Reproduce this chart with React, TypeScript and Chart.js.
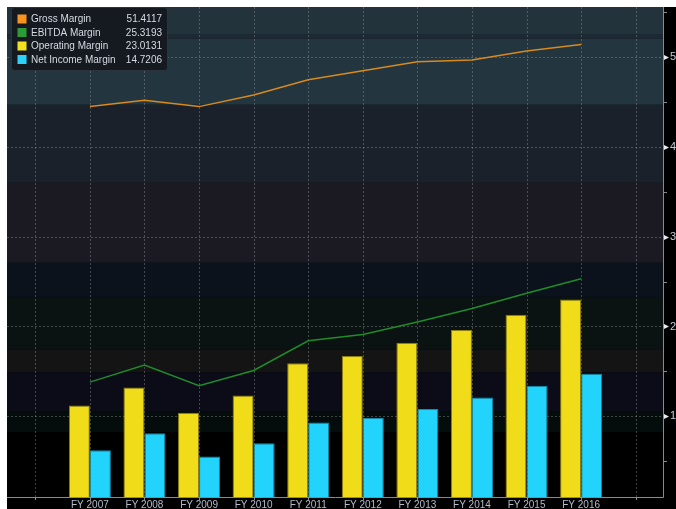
import React, { useEffect, useRef } from 'react';
import { Chart, registerables } from 'chart.js';

Chart.register(...registerables);

const categories = ['', 'FY 2007', 'FY 2008', 'FY 2009', 'FY 2010', 'FY 2011', 'FY 2012', 'FY 2013', 'FY 2014', 'FY 2015', 'FY 2016', ''];
const grossMargin = [null, 44.5, 45.2, 44.5, 45.8, 47.5, 48.5, 49.5, 49.7, 50.7, 51.41, null];
const ebitdaMargin = [null, 13.8, 15.7, 13.4, 15.1, 18.4, 19.1, 20.5, 22.0, 23.7, 25.32, null];
const operatingMargin = [null, 11.2, 13.2, 10.4, 12.3, 15.9, 16.7, 18.2, 19.6, 21.3, 23.01, null];
const netIncomeMargin = [null, 6.2, 8.1, 5.5, 7.0, 9.3, 9.8, 10.8, 12.1, 13.4, 14.72, null];

const seriesNames = ['Gross Margin', 'EBITDA Margin', 'Operating Margin', 'Net Income Margin'];
const legendValues = ['51.4117', '25.3193', '23.0131', '14.7206'];
const legendColors = ['#f7941d', '#2c9a36', '#f2e11c', '#2bd3fb'];

const yTicks = [5, 10, 15, 20, 25, 30, 35, 40, 45, 50, 55];
const yMin = 1;
const yMax = 55.6;

// background bands (value ranges) – styling
const bands: [number, number, string][] = [
  [52.5, 60, '#22333b'],
  [52.1, 52.5, '#1f2836'],
  [44.7, 52.1, '#23353e'],
  [36.0, 44.7, '#1a212a'],
  [27.1, 36.0, '#1b1a23'],
  [23.3, 27.1, '#0b121c'],
  [17.4, 23.3, '#0a1212'],
  [14.9, 17.4, '#141414'],
  [10.5, 14.9, '#0b0c18'],
  [8.25, 10.5, '#050c0c'],
];

const FONT = '"Liberation Sans", Arial, sans-serif';

const bgPlugin = {
  id: 'bgPlugin',
  beforeDraw(chart: any) {
    const { ctx, chartArea: ca, scales } = chart;
    const y = scales.y;
    const x = scales.x;
    ctx.save();
    ctx.fillStyle = '#000000';
    ctx.fillRect(0, 0, chart.width, chart.height);
    for (const [a, b, c] of bands) {
      const top = Math.max(ca.top, y.getPixelForValue(Math.min(b, yMax)));
      const bot = Math.min(ca.bottom, y.getPixelForValue(Math.max(a, yMin)));
      if (bot <= top) continue;
      ctx.fillStyle = c;
      ctx.fillRect(0, top, ca.right, bot - top);
    }
    // grid
    ctx.strokeStyle = 'rgba(150,150,150,0.42)';
    ctx.lineWidth = 1;
    ctx.setLineDash([2, 2]);
    for (const v of yTicks) {
      if (v % 10 !== 0) continue;
      const py = Math.round(y.getPixelForValue(v)) + 0.5;
      ctx.beginPath();
      ctx.moveTo(0, py);
      ctx.lineTo(ca.right, py);
      ctx.stroke();
    }
    for (let i = 0; i < categories.length; i++) {
      const px = Math.round(x.getPixelForValue(i)) + 0.5;
      ctx.beginPath();
      ctx.moveTo(px, ca.top);
      ctx.lineTo(px, ca.bottom);
      ctx.stroke();
    }
    ctx.restore();
  },
  afterDraw(chart: any) {
    const { ctx, chartArea: ca, scales } = chart;
    const y = scales.y;
    const x = scales.x;
    ctx.save();
    // axis lines
    ctx.strokeStyle = '#8a8a8a';
    ctx.lineWidth = 1;
    ctx.beginPath();
    ctx.moveTo(0, Math.round(ca.bottom) + 0.5);
    ctx.lineTo(Math.round(ca.right) + 0.5, Math.round(ca.bottom) + 0.5);
    ctx.lineTo(Math.round(ca.right) + 0.5, ca.top);
    ctx.stroke();
    // x ticks
    for (let i = 0; i < categories.length; i++) {
      const px = Math.round(x.getPixelForValue(i)) + 0.5;
      ctx.beginPath();
      ctx.moveTo(px, ca.bottom);
      ctx.lineTo(px, ca.bottom + 3);
      ctx.stroke();
    }
    // y ticks
    for (const v of yTicks) {
      const py = Math.round(y.getPixelForValue(v)) + 0.5;
      if (v % 10 === 0) {
        ctx.fillStyle = '#e8ecf2';
        ctx.beginPath();
        ctx.moveTo(ca.right + 1, py - 2.5);
        ctx.lineTo(ca.right + 6, py);
        ctx.lineTo(ca.right + 1, py + 2.5);
        ctx.closePath();
        ctx.fill();
      } else {
        ctx.strokeStyle = '#8a8a8a';
        ctx.beginPath();
        ctx.moveTo(ca.right + 1, py);
        ctx.lineTo(ca.right + 4, py);
        ctx.stroke();
      }
    }
    // legend
    const bx = 4, by = 0.5, bw = 156, bh = 63;
    ctx.fillStyle = 'rgba(21,25,31,0.96)';
    ctx.strokeStyle = '#2c333c';
    ctx.beginPath();
    ctx.roundRect(bx + 0.5, by, bw, bh, 3);
    ctx.fill();
    ctx.stroke();
    ctx.font = `10px ${FONT}`;
    ctx.textBaseline = 'middle';
    for (let i = 0; i < seriesNames.length; i++) {
      const cy = 12 + i * 13.5;
      ctx.fillStyle = legendColors[i];
      ctx.fillRect(10.5, cy - 4.5, 9, 9);
      ctx.fillStyle = '#d6dae2';
      ctx.textAlign = 'left';
      ctx.fillText(seriesNames[i], 24, cy + 0.5);
      ctx.textAlign = 'right';
      ctx.fillText(legendValues[i], 155, cy + 0.5);
    }
    ctx.restore();
  },
};

export default function App() {
  const ref = useRef<HTMLCanvasElement | null>(null);
  useEffect(() => {
    if (!ref.current) return;
    const chart = new Chart(ref.current, {
      type: 'bar',
      data: {
        labels: categories,
        datasets: [
          {
            type: 'line',
            label: seriesNames[0],
            data: grossMargin,
            borderColor: '#d98a1c',
            borderWidth: 1.5,
            pointRadius: 0,
            tension: 0,
            order: 0,
          } as any,
          {
            type: 'line',
            label: seriesNames[1],
            data: ebitdaMargin,
            borderColor: '#1f8c29',
            borderWidth: 1.5,
            pointRadius: 0,
            tension: 0,
            order: 0,
          } as any,
          {
            type: 'bar',
            label: seriesNames[2],
            data: operatingMargin,
            backgroundColor: '#f0dc18',
            borderColor: '#8c7d10',
            borderWidth: 1,
            order: 1,
          },
          {
            type: 'bar',
            label: seriesNames[3],
            data: netIncomeMargin,
            backgroundColor: '#22d4fc',
            borderColor: '#168aa8',
            borderWidth: 1,
            order: 1,
          },
        ],
      },
      options: {
        animation: false,
        responsive: false,
        devicePixelRatio: 1,
        layout: { padding: { left: 1, right: 0, top: 0, bottom: 0 } },
        categoryPercentage: 0.77,
        barPercentage: 1.0,
        plugins: {
          legend: { display: false },
          tooltip: { enabled: false },
        },
        scales: {
          x: {
            grid: { display: false, drawTicks: false },
            border: { display: false },
            ticks: {
              autoSkip: false,
              maxRotation: 0,
              padding: 2,
              color: '#b4bccb',
              font: { family: FONT, size: 10 },
            },
            afterFit(scale: any) {
              scale.height = 12;
              scale.paddingLeft = 0;
              scale.paddingRight = 0;
            },
          },
          y: {
            position: 'right',
            min: yMin,
            max: yMax,
            grid: { display: false, drawTicks: false },
            border: { display: false },
            afterBuildTicks(scale: any) {
              scale.ticks = yTicks.map((v) => ({ value: v }));
            },
            ticks: {
              padding: 7,
              color: '#c4cbd8',
              font: { family: FONT, size: 11 },
              callback: (v: any) => (Number(v) % 10 === 0 ? String(v) : ''),
            },
            afterFit(scale: any) {
              scale.width = 13;
              scale.paddingTop = 0;
              scale.paddingBottom = 0;
            },
          },
        },
      } as any,
      plugins: [bgPlugin],
    });
    return () => chart.destroy();
  }, []);
  return (
    <div style={{ position: 'fixed', left: 0, top: 0, width: 676, height: 509, background: '#ffffff', overflow: 'hidden' }}>
      <canvas ref={ref} width={669} height={502} style={{ position: 'absolute', left: 7, top: 7, width: 669, height: 502 }} />
    </div>
  );
}
